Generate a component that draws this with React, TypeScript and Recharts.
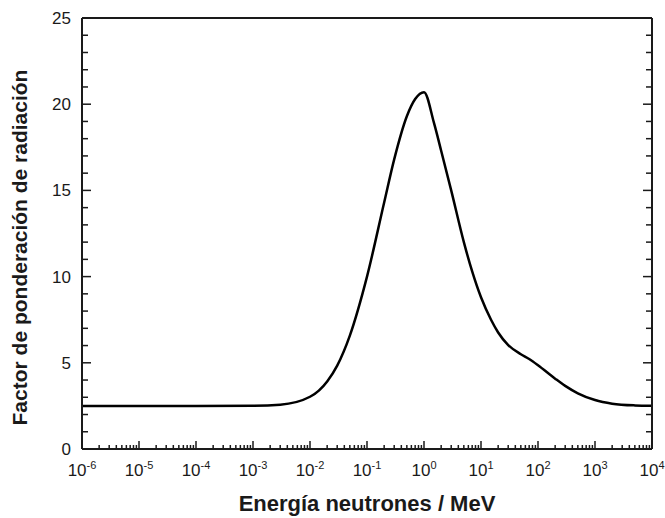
import { LineChart, Line, XAxis, YAxis } from 'recharts';

// Energía de neutrones (MeV) y factor de ponderación
const energies = [
    1e-6, 1e-5, 1e-4, 1e-3, 3e-3, 1e-2, 2e-2, 3e-2, 5e-2, 0.1, 0.2, 0.3, 0.5, 0.7,
    1, 1.5, 2, 3, 5, 7, 10, 15, 20, 30, 50, 70, 100, 200, 300, 500, 1000, 2000, 5000, 1e4,
];
const weights = [
    2.5, 2.5, 2.5, 2.51, 2.57, 3.03, 3.92, 4.84, 6.58, 10.0, 14.3, 16.8, 19.3, 20.3,
    20.7, 18.9, 17.3, 15.0, 12.0, 10.3, 8.8, 7.5, 6.76, 6.03, 5.5, 5.22, 4.86, 4.08, 3.66, 3.23, 2.84, 2.63, 2.53, 2.51,
];

const decadeExponents = [-6, -5, -4, -3, -2, -1, 0, 1, 2, 3, 4];
const minorMultipliers = [2, 3, 4, 5, 6, 7, 8, 9];
const yTicks = Array.from({ length: 26 }, (_, i) => i);
const yLabelStep = 5;

const xTitle = 'Energía neutrones / MeV';
const yTitle = 'Factor de ponderación de radiación';

const FONT = '"Liberation Sans", Arial, Helvetica, sans-serif';
const INK = '#1a1a1a';

if (typeof document !== 'undefined') document.body.style.margin = '0';

const data = energies.map((e, i) => ({ energy: e, wr: weights[i] }));

const decades = decadeExponents.map(k => Math.pow(10, k));
const bottomTicks: number[] = [];
decadeExponents.forEach((k, idx) => {
    bottomTicks.push(Math.pow(10, k));
    if (idx < decadeExponents.length - 1) {
        minorMultipliers.forEach(m => bottomTicks.push(m * Math.pow(10, k)));
    }
});

const isDecade = (v: number) => {
    const l = Math.log10(v);
    return Math.abs(l - Math.round(l)) < 1e-9;
};

// ticks dibujados hacia dentro del marco
const BottomTick = ({ x, y, payload }: any) => {
    const v = payload.value;
    const major = isDecade(v);
    const exp = Math.round(Math.log10(v));
    return (
        <g>
            <line x1={x} y1={y} x2={x} y2={y - (major ? 8 : 4)} stroke={INK} strokeWidth={1.5} />
            {major && (
                <text x={x} y={y + 27} textAnchor="middle" fontFamily={FONT} fontSize={17} fill={INK}>
                    <tspan>10</tspan>
                    <tspan dy={-7} fontSize={11}>{exp}</tspan>
                </text>
            )}
        </g>
    );
};

const TopTick = ({ x, y }: any) => (
    <line x1={x} y1={y} x2={x} y2={y + 8} stroke={INK} strokeWidth={1.5} />
);

const LeftTick = ({ x, y, payload }: any) => {
    const major = payload.value % yLabelStep === 0;
    return (
        <g>
            <line x1={x} y1={y} x2={x + (major ? 9 : 6)} y2={y} stroke={INK} strokeWidth={1.5} />
            {major && (
                <text x={x - 11} y={y + 6} textAnchor="end" fontFamily={FONT} fontSize={17} fill={INK}>
                    {payload.value}
                </text>
            )}
        </g>
    );
};

const RightTick = ({ x, y, payload }: any) => {
    const major = payload.value % yLabelStep === 0;
    return <line x1={x} y1={y} x2={x - (major ? 9 : 6)} y2={y} stroke={INK} strokeWidth={1.5} />;
};

const XTitle = ({ viewBox }: any) => (
    <text
        x={viewBox.x + viewBox.width / 2}
        y={viewBox.y + viewBox.height - 7}
        textAnchor="middle"
        fontFamily={FONT}
        fontSize={22}
        fontWeight="bold"
        fill={INK}
    >
        {xTitle}
    </text>
);

const YTitle = ({ viewBox }: any) => {
    const cx = viewBox.x + 27;
    const cy = viewBox.y + viewBox.height / 2 + 14;
    return (
        <text
            x={cx}
            y={cy}
            transform={`rotate(-90, ${cx}, ${cy})`}
            textAnchor="middle"
            fontFamily={FONT}
            fontSize={21}
            fontWeight="bold"
            fill={INK}
        >
            {yTitle}
        </text>
    );
};

export default function App() {
    return (
        <div style={{ width: 665, height: 518, background: '#fff' }}>
            <LineChart width={665} height={518} data={data} margin={{ top: 10, right: 5, bottom: 0, left: 0 }}>
                <XAxis
                    dataKey="energy"
                    type="number"
                    scale="log"
                    domain={[1e-6, 1e4]}
                    allowDataOverflow
                    ticks={bottomTicks}
                    interval={0}
                    tickSize={0}
                    tickMargin={0}
                    tickLine={false}
                    tick={<BottomTick />}
                    height={69}
                    axisLine={{ stroke: INK, strokeWidth: 2 }}
                    label={{ content: <XTitle /> }}
                />
                <XAxis
                    xAxisId="top"
                    orientation="top"
                    type="number"
                    scale="log"
                    domain={[1e-6, 1e4]}
                    allowDataOverflow
                    ticks={decades}
                    interval={0}
                    tickSize={0}
                    tickMargin={0}
                    tickLine={false}
                    tick={<TopTick />}
                    height={8}
                    axisLine={{ stroke: INK, strokeWidth: 2 }}
                />
                <YAxis
                    type="number"
                    domain={[0, 25]}
                    allowDataOverflow
                    ticks={yTicks}
                    interval={0}
                    tickSize={0}
                    tickMargin={0}
                    tickLine={false}
                    tick={<LeftTick />}
                    width={82}
                    axisLine={{ stroke: INK, strokeWidth: 2 }}
                    label={{ content: <YTitle /> }}
                />
                <YAxis
                    yAxisId="right"
                    orientation="right"
                    type="number"
                    domain={[0, 25]}
                    allowDataOverflow
                    ticks={yTicks}
                    interval={0}
                    tickSize={0}
                    tickMargin={0}
                    tickLine={false}
                    tick={<RightTick />}
                    width={8}
                    axisLine={{ stroke: INK, strokeWidth: 2 }}
                />
                <Line
                    type="monotone"
                    dataKey="wr"
                    stroke="#000"
                    strokeWidth={2.5}
                    dot={false}
                    activeDot={false}
                    isAnimationActive={false}
                />
            </LineChart>
        </div>
    );
}
